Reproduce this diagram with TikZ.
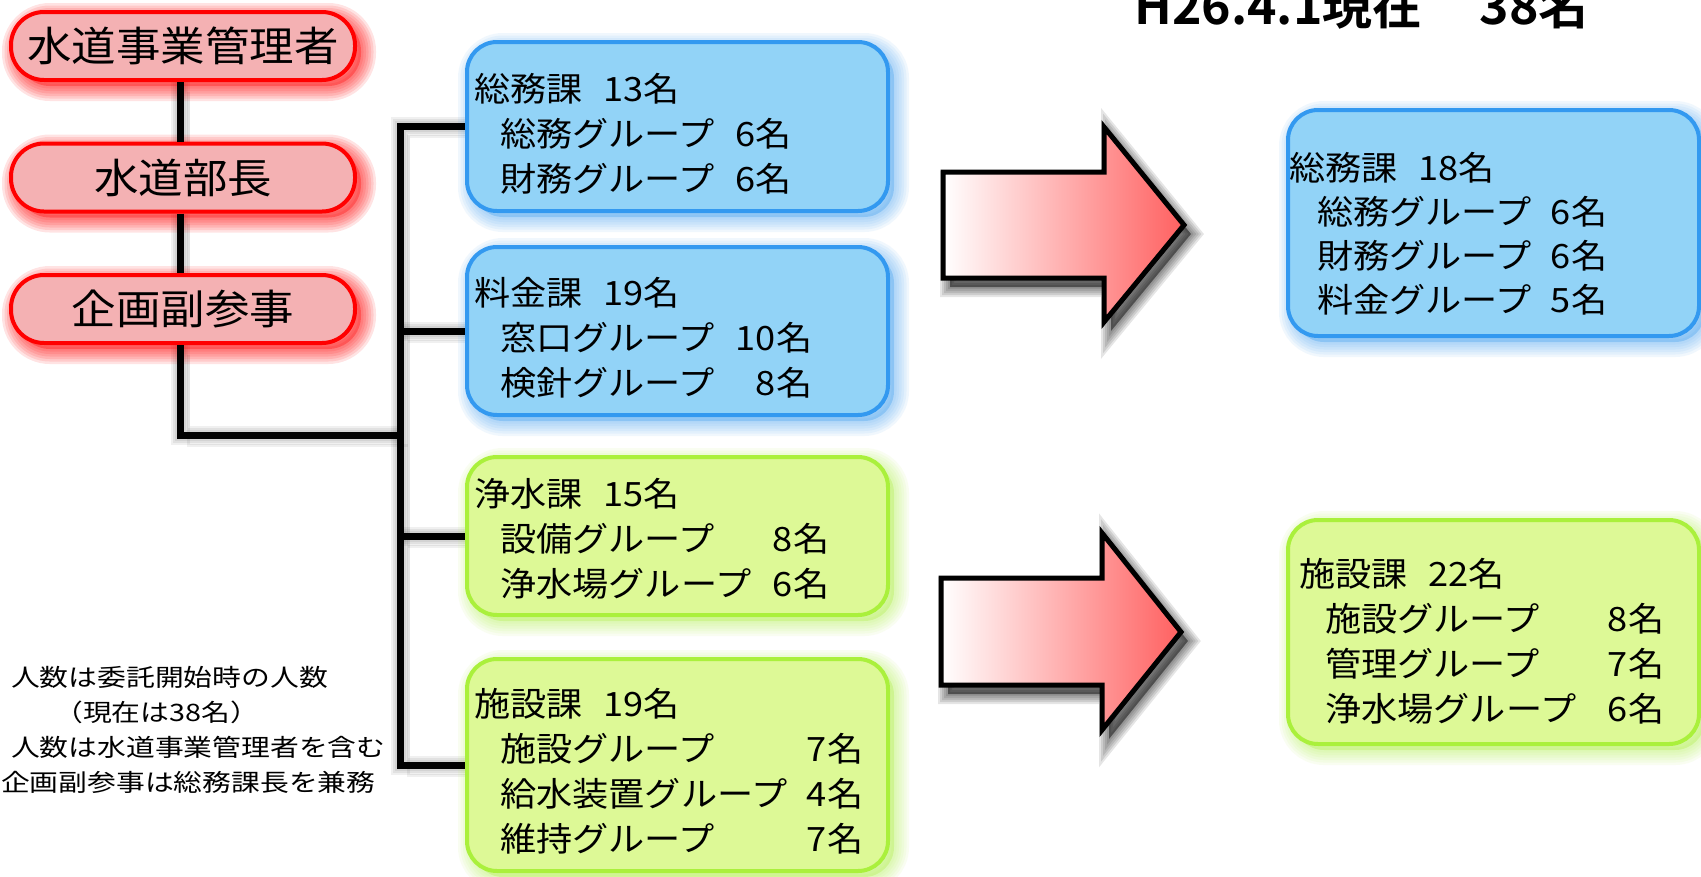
\documentclass[tikz,border=0pt]{standalone}
\usepackage{fontspec}
\newfontfamily\jp[FakeStretch=1.08]{Noto Sans CJK JP}
\newfontfamily\jpr[FakeStretch=1.085]{Noto Sans CJK JP}
\newfontfamily\jpn[FakeStretch=1.2]{Noto Sans CJK JP}
\newfontfamily\jpb{Noto Sans CJK JP Bold}
\usetikzlibrary{shadows}
\pgfdeclarelayer{background}
\pgfsetlayers{background,main}

\definecolor{redfill}{RGB}{244,177,179}
\definecolor{redline}{RGB}{255,0,0}
\definecolor{bluefill}{RGB}{146,211,247}
\definecolor{blueline}{RGB}{51,153,240}
\definecolor{greenfill}{RGB}{221,249,150}
\definecolor{greenline}{RGB}{170,240,60}
\definecolor{arrowred}{RGB}{255,96,96}

\newlength\gind
\newcommand{\gr}[3]{\makebox[#1][l]{\hspace*{\gind}#2\hfill#3}}

\tikzset{
  gl/.style n args={4}{general shadow={draw=#1, draw opacity=#2, line width=#3, shadow xshift=#4, shadow yshift=-#4}},
  glow/.style 2 args={
    general shadow={fill=#1, fill opacity=.3, shadow xshift=6pt, shadow yshift=-6pt},
    gl={#1}{#2}{30pt}{6pt}, gl={#1}{#2}{25pt}{6pt}, gl={#1}{#2}{20pt}{6pt},
    gl={#1}{#2}{15pt}{6pt}, gl={#1}{#2}{10pt}{6pt}, gl={#1}{#2}{5pt}{6pt}},
  box/.style={draw, line width=4pt, inner sep=0pt, rounded corners=30pt},
  redbox/.style={box, draw=redline, fill=redfill, glow={red}{.11}, rounded corners=33pt,
    minimum width=344pt, minimum height=68pt, font=\jpr\fontsize{41}{49}\selectfont},
  bluebox/.style={box, draw=blueline, fill=bluefill, glow={blueline}{.07}},
  greenbox/.style={box, draw=greenline, fill=greenfill, glow={greenline}{.07}},
  txt/.style={anchor=base west, inner sep=0pt, font=\jp\fontsize{33.5}{45}\selectfont},
  conn/.style={draw=black, line width=7pt, line join=miter},
  lshadow/.style={transform canvas={shift={(8pt,-10pt)}}, draw=black, draw opacity=.06, line width=3pt,
    preaction={draw=black, draw opacity=.06, line width=7pt},
    preaction={draw=black, draw opacity=.06, line width=11pt},
    preaction={draw=black, draw opacity=.06, line width=15pt},
    preaction={draw=black, draw opacity=.06, line width=19pt}},
  as/.style={general shadow={draw=black, draw opacity=.1, line width=#1, shadow xshift=7pt, shadow yshift=-9pt}},
  bigarrow/.style={draw=black, line width=5pt, line join=miter, left color=white, right color=arrowred,
    general shadow={fill=black, fill opacity=.45, shadow xshift=7pt, shadow yshift=-9pt},
    as=20pt, as=16pt, as=12pt, as=8pt, as=4pt},
}

\begin{document}
\begin{tikzpicture}[x=1pt,y=-1pt]
\useasboundingbox (0,0) rectangle (1701,876);

% red hierarchy
\node[redbox] (r1) at (183,46) {水道事業管理者};
\node[redbox] (r2) at (183,177.5) {水道部長};
\node[redbox] (r3) at (183,309) {企画副参事};

% left section boxes
\node[bluebox, minimum width=421pt, minimum height=169pt] (b1) at (677.5,126.5) {};
\node[bluebox, minimum width=421pt, minimum height=168pt] (b2) at (677.5,331) {};
\node[greenbox, minimum width=421pt, minimum height=158pt] (g1) at (677.5,536) {};
\node[greenbox, minimum width=421pt, minimum height=212pt] (g2) at (677.5,765) {};

% right section boxes
\node[bluebox, minimum width=411pt, minimum height=226pt] (rb) at (1493.5,223) {};
\node[greenbox, minimum width=411pt, minimum height=224pt] (rg) at (1493.5,632) {};

% texts in boxes
\node[txt] (tb1) at (474,101) {\setlength\gind{26pt}\begin{tabular}[t]{@{}l@{}}
総務課\hspace{21pt}13名\\
\gr{318pt}{総務グループ}{6名}\\
\gr{318pt}{財務グループ}{6名}
\end{tabular}};
\node[txt] (tb2) at (474,305) {\setlength\gind{26pt}\begin{tabular}[t]{@{}l@{}}
料金課\hspace{21pt}19名\\
\gr{338pt}{窓口グループ}{10名}\\
\gr{338pt}{検針グループ}{8名}
\end{tabular}};
\node[txt] (tg1) at (474,506) {\setlength\gind{26pt}\begin{tabular}[t]{@{}l@{}}
浄水課\hspace{21pt}15名\\
\gr{355pt}{設備グループ}{8名}\\
\gr{355pt}{浄水場グループ}{6名}
\end{tabular}};
\node[txt] (tg2) at (474,716) {\setlength\gind{26pt}\begin{tabular}[t]{@{}l@{}}
施設課\hspace{21pt}19名\\
\gr{389pt}{施設グループ}{7名}\\
\gr{389pt}{給水装置グループ}{4名}\\
\gr{389pt}{維持グループ}{7名}
\end{tabular}};
\node[txt, font=\jp\fontsize{33.5}{44}\selectfont] (trb) at (1289,180) {\setlength\gind{28pt}\begin{tabular}[t]{@{}l@{}}
総務課\hspace{21pt}18名\\
\gr{318pt}{総務グループ}{6名}\\
\gr{318pt}{財務グループ}{6名}\\
\gr{318pt}{料金グループ}{5名}
\end{tabular}};
\node[txt] (trg) at (1299,586) {\setlength\gind{26pt}\begin{tabular}[t]{@{}l@{}}
施設課\hspace{21pt}22名\\
\gr{365pt}{施設グループ}{8名}\\
\gr{365pt}{管理グループ}{7名}\\
\gr{365pt}{浄水場グループ}{6名}
\end{tabular}};

% title
\node[anchor=base west, inner sep=0pt, font=\jpb\fontsize{50}{60}\selectfont] (title) at (1134,24) {H26.4.1現在\hspace{57pt}38名};

% notes
\node[anchor=base west, inner sep=0pt, font=\jpn\fontsize{24}{35}\selectfont] (notes) at (11,686) {\begin{tabular}[t]{@{}l@{}}
人数は委託開始時の人数\\
\hspace*{43pt}（現在は38名）\\
人数は水道事業管理者を含む\\
\hspace*{-10pt}企画副参事は総務課長を兼務
\end{tabular}};

% connectors
\coordinate (tk) at (400,0);
\coordinate (rx) at (180,0);
\coordinate (j) at (400,435);
\begin{pgfonlayer}{background}
\fill[white] (0,0) rectangle (1701,876);
\draw[lshadow] (b1.west) -| (tk |- g2.west) -- (g2.west);
\draw[lshadow] (tk |- b2.west) -- (b2.west);
\draw[lshadow] (tk |- g1.west) -- (g1.west);
\draw[lshadow] (rx |- r1.south) -- (rx |- r2.north);
\draw[lshadow] (rx |- r2.south) -- (rx |- r3.north);
\draw[lshadow] (rx |- r3.south) |- (j);
\end{pgfonlayer}
\draw[conn] (b1.west) -| (tk |- g2.west) -- (g2.west);
\draw[conn] (tk |- b2.west) -- (b2.west);
\draw[conn] (tk |- g1.west) -- (g1.west);
\draw[conn] (rx |- r1.south) -- (rx |- r2.north);
\draw[conn] (rx |- r2.south) -- (rx |- r3.north);
\draw[conn] (rx |- r3.south) |- (j);

% big arrows
\draw[bigarrow] (943,172) -- (1104,172) -- (1104,127) -- (1184,225) -- (1104,322) -- (1104,278) -- (943,278) -- cycle;
\draw[bigarrow] (941,578) -- (1102,578) -- (1102,533) -- (1181,632) -- (1102,730) -- (1102,685) -- (941,685) -- cycle;
\end{tikzpicture}
\end{document}
